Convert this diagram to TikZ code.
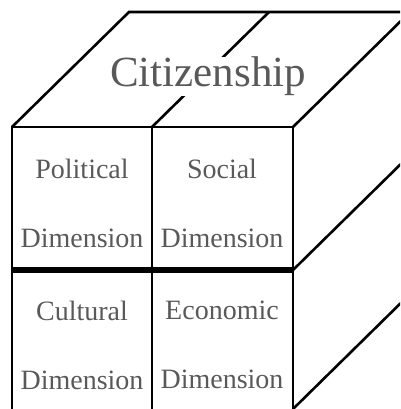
\documentclass[tikz,border=0pt]{standalone}
\usepackage{fontspec}
\setmainfont{Liberation Serif}

\begin{document}
\begin{tikzpicture}[x=1pt,y=-1pt,
    edge/.style={line width=2.6pt},
    split/.style={line width=6pt},
    dimlabel/.style={text=black!65,font=\fontsize{28}{69}\selectfont,align=center}]
    \useasboundingbox (0,0) rectangle (400,409);
    \clip (0,0) rectangle (400,409);

    % front face corners
    \coordinate (fnw) at ( 12,127);
    \coordinate (fne) at (293,127);
    \coordinate (fsw) at ( 12,409);
    \coordinate (fse) at (293,409);
    \coordinate (fn)  at (152,127);
    \coordinate (fs)  at (152,409);
    \coordinate (fw)  at ( 12,270);
    \coordinate (fe)  at (293,270);

    % top and right faces
    \draw [edge] (fnw) -- ++(117,-115) -- ++(300,0);
    \draw [edge] (fne) -- ++(117,-115);
    \draw [edge] (fn)  -- ++(117,-115);
    \draw [edge] (fe)  -- ++(117,-115);
    \draw [edge] (fse) -- ++(117,-115);
    \path (208,87) node [anchor=base,fill=white,inner sep=0pt,
     text=black!65,font=\fontsize{43}{50}\selectfont] (title) {Citizenship};

    % front face
    \draw [edge] (fsw) -- (fnw) -- (fne) -- (fse);
    \draw [edge] (fn) -- (fs);
    \draw [split] (fw) -- (fe);

    \path ( 82,203) node [dimlabel] (pol) {Political\\Dimension};
    \path (222,203) node [dimlabel] (soc) {Social\\Dimension};
    \path ( 82,345) node [dimlabel] (cul) {Cultural\\Dimension};
    \path (222,345) node [dimlabel] (eco) {Economic\\Dimension};
\end{tikzpicture}
\end{document}
